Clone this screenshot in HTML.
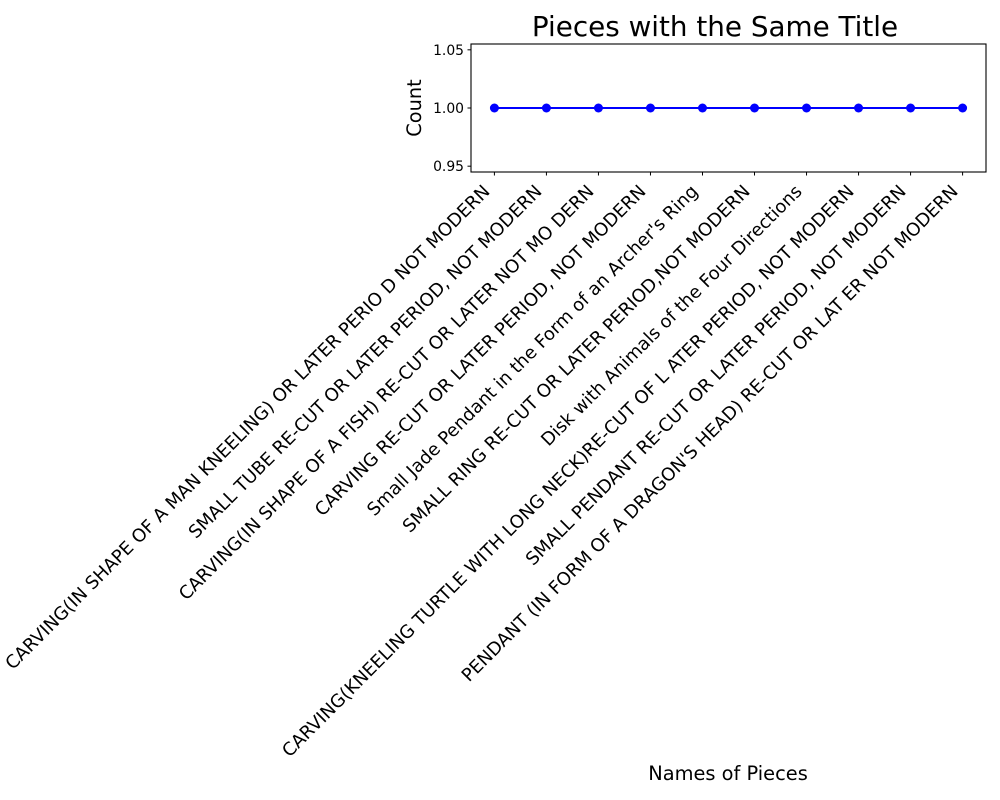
<!DOCTYPE html>
<html><head><meta charset="utf-8"><style>
body{margin:0;background:#fff}
svg{display:block;font-family:"DejaVu Sans","Liberation Sans",sans-serif}
</style></head><body>
<svg id="chart" width="1000" height="800" viewBox="0 0 1000 800">
<rect width="1000" height="800" fill="#fff"/>
<text x="715" y="36" font-size="27.8" text-anchor="middle">Pieces with the Same Title</text>
<text transform="translate(421,108) rotate(-90)" font-size="19.4" text-anchor="middle">Count</text>
<text x="728" y="780" font-size="19.4" text-anchor="middle">Names of Pieces</text>
<g id="yaxis"></g>
<g id="xaxis"></g>
<g id="series"></g>
<rect x="471" y="44" width="515" height="128" fill="none" stroke="#000" stroke-width="1.1"/>
</svg>
<script>
const categories = ["CARVING(IN SHAPE OF A MAN KNEELING) OR LATER PERIO D NOT MODERN","SMALL TUBE RE-CUT OR LATER PERIOD, NOT MODERN","CARVING(IN SHAPE OF A FISH) RE-CUT OR LATER NOT MO DERN","CARVING RE-CUT OR LATER PERIOD, NOT MODERN","Small Jade Pendant in the Form of an Archer's Ring","SMALL RING RE-CUT OR LATER PERIOD,NOT MODERN","Disk with Animals of the Four Directions","CARVING(KNEELING TURTLE WITH LONG NECK)RE-CUT OF L ATER PERIOD, NOT MODERN","SMALL PENDANT RE-CUT OR LATER PERIOD, NOT MODERN","PENDANT (IN FORM OF A DRAGON'S HEAD) RE-CUT OR LAT ER NOT MODERN"];
const counts = [1,1,1,1,1,1,1,1,1,1];
const yTicks = [0.95,1.00,1.05];
const yTickLabels = ["0.95","1.00","1.05"];
const NS="http://www.w3.org/2000/svg";
const L=471,R=986,T=44,B=172;
const n=categories.length;
const xMin=-0.45*(n-1)/9, xMax=(n-1)+0.45*(n-1)/9;
const yMin=0.945,yMax=1.055;
const xs=i=>L+(i-xMin)/(xMax-xMin)*(R-L);
const ys=v=>B-(v-yMin)/(yMax-yMin)*(B-T);
function mk(tag,attrs,parent){const e=document.createElementNS(NS,tag);for(const k in attrs)e.setAttribute(k,attrs[k]);parent.appendChild(e);return e;}
const ya=document.getElementById('yaxis'),xa=document.getElementById('xaxis'),sg=document.getElementById('series');
yTicks.forEach((v,i)=>{
  const t=mk('line',{x1:L-3.5,x2:L,y1:ys(v),y2:ys(v),stroke:'#000','stroke-width':1},ya);
  
  
  const tx=mk('text',{x:L-7,y:ys(v)+5,'font-size':13.9,'text-anchor':'end'},ya);
  tx.textContent=yTickLabels[i];
  
  
});
categories.forEach((c,i)=>{
  const x=xs(i);
  const t=mk('line',{x1:x,x2:x,y1:B,y2:B+3.5,stroke:'#000','stroke-width':1},xa);
  
  
  const tx=mk('text',{transform:`translate(${x-8},${B+16}) rotate(-45)`,'font-size':18,'text-anchor':'end',dy:'0.35em'},xa);
  tx.textContent=c;
  
  
});
const pts=counts.map((v,i)=>xs(i)+','+ys(v)).join(' ');
const pl=mk('polyline',{points:pts,fill:'none',stroke:'#0000ff','stroke-width':2},sg);


counts.forEach((v,i)=>{
  const c=mk('circle',{cx:xs(i),cy:ys(v),r:4.5,fill:'#0000ff'},sg);
  
  
});
</script>
</body></html>
